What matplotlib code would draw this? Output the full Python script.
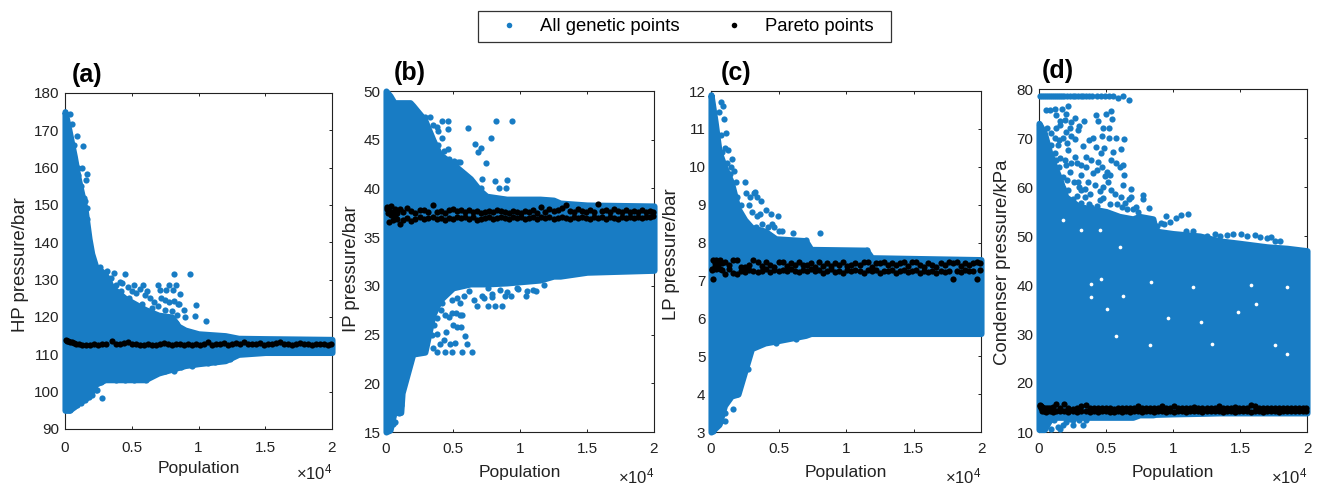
import matplotlib
matplotlib.use("Agg")
import matplotlib.pyplot as plt
from matplotlib.patches import Rectangle

plt.rcParams['font.family'] = ['Liberation Sans', 'DejaVu Sans']
plt.rcParams['mathtext.fontset'] = 'custom'
plt.rcParams['mathtext.rm'] = 'Liberation Sans'

BLUE = '#187cc4'

#-----pareto points-----
pareto_pop = [60, 150, 260, 380, 520, 680, 850, 1050, 1300, 1600,
              1900, 2200, 2500, 2800, 3100, 3500, 3800, 4100, 4400, 4700,
              5000, 5300, 5600, 5900, 6200, 6500, 6800, 7100, 7400, 7700,
              8000, 8300, 8600, 8900, 9200, 9500, 9800, 10100, 10400, 10700,
              11000, 11300, 11600, 11900, 12200, 12500, 12800, 13100, 13400, 13700,
              14000, 14300, 14600, 14900, 15200, 15500, 15800, 16100, 16400, 16700,
              17000, 17300, 17600, 17900, 18200, 18500, 18800, 19100, 19400, 19700,
              19900]
pareto_a = [113.8, 113.7, 113.5, 113.3, 113.2, 113.0, 112.9, 112.7, 112.6, 112.5,
            112.6, 112.7, 112.5, 112.8, 112.9, 113.6, 112.7, 112.8, 113.0, 113.2,
            112.8, 112.7, 112.6, 112.6, 112.7, 112.5, 112.6, 112.9, 113.0, 112.7,
            112.6, 112.8, 112.9, 112.6, 112.7, 112.6, 112.8, 112.6, 112.7, 113.3,
            112.6, 112.8, 112.7, 113.0, 112.6, 112.7, 113.1, 112.8, 113.4, 112.7,
            112.9, 112.7, 113.1, 112.6, 112.8, 112.7, 113.0, 113.4, 112.7, 112.9,
            112.6, 112.8, 113.0, 112.7, 112.8, 112.6, 112.9, 112.7, 112.8, 112.6,
            112.8]
pareto_b_hi = [38.1, 37.9, 37.7, 38.2, 37.6, 37.9, 37.5, 37.9, 37.6, 38.0,
               37.7, 37.5, 37.8, 37.8, 37.6, 38.3, 37.6, 37.7, 37.5, 37.8,
               37.9, 37.7, 37.8, 37.6, 37.8, 37.6, 37.7, 37.5, 37.6, 37.7,
               37.6, 37.8, 37.7, 37.6, 37.5, 37.7, 37.6, 37.5, 37.7, 37.6,
               37.8, 37.5, 38.1, 37.6, 37.9, 37.7, 37.8, 38.0, 38.3, 37.7,
               37.6, 37.9, 37.7, 37.6, 37.8, 37.6, 38.4, 37.7, 37.8, 37.6,
               37.9, 37.7, 37.6, 37.8, 37.6, 37.7, 37.6, 37.8, 37.6, 37.7,
               37.6]
pareto_b_lo = [37.9, 37.5, 36.6, 37.3, 36.8, 37.1, 36.9, 36.4, 36.8, 37.0,
               36.7, 36.9, 37.1, 36.9, 37.0, 37.1, 36.9, 37.0, 36.8, 37.0,
               36.9, 37.1, 37.0, 37.1, 36.9, 37.1, 36.8, 36.9, 37.0, 37.1,
               36.9, 37.0, 37.1, 37.0, 36.9, 37.1, 37.0, 37.1, 36.9, 37.0,
               37.1, 36.9, 37.1, 37.0, 37.1, 36.9, 37.0, 37.1, 37.0, 36.9,
               37.1, 37.0, 37.1, 37.0, 36.9, 37.1, 37.0, 37.1, 36.9, 37.1,
               37.0, 36.9, 37.1, 37.0, 37.1, 37.0, 37.1, 37.0, 37.1, 37.1,
               37.2]
pareto_c_hi = [7.30, 7.55, 7.45, 7.55, 7.50, 7.55, 7.45, 7.48, 7.40, 7.55,
               7.53, 7.35, 7.35, 7.40, 7.55, 7.50, 7.38, 7.48, 7.40, 7.35,
               7.50, 7.50, 7.38, 7.45, 7.40, 7.48, 7.42, 7.40, 7.47, 7.35,
               7.48, 7.38, 7.47, 7.38, 7.47, 7.40, 7.48, 7.38, 7.42, 7.47,
               7.40, 7.48, 7.50, 7.35, 7.47, 7.45, 7.48, 7.40, 7.47, 7.42,
               7.47, 7.50, 7.38, 7.50, 7.48, 7.40, 7.35, 7.47, 7.42, 7.35,
               7.45, 7.40, 7.48, 7.47, 7.50, 7.38, 7.47, 7.42, 7.47, 7.50,
               7.47]
pareto_c_lo = [7.28, 7.05, 7.38, 7.30, 7.40, 7.30, 7.28, 7.18, 7.30, 7.20,
               7.18, 7.25, 7.22, 7.28, 7.25, 7.22, 7.25, 7.30, 7.22, 7.28,
               7.25, 7.28, 7.25, 7.30, 7.26, 7.22, 7.28, 7.25, 7.30, 7.24,
               7.28, 7.20, 7.26, 7.30, 7.22, 7.26, 7.20, 7.28, 7.24, 7.28,
               7.26, 7.20, 7.28, 7.24, 7.28, 7.20, 7.26, 7.24, 7.28, 7.20,
               7.24, 7.28, 7.22, 7.26, 7.28, 7.20, 7.26, 7.22, 7.24, 7.20,
               7.26, 7.22, 7.24, 7.05, 7.26, 7.22, 7.28, 7.24, 7.26, 7.05,
               7.28]
pareto_d_hi = [15.6, 15.4, 15.2, 14.8, 14.9, 15.0, 14.8, 15.1, 15.7, 14.9,
               15.8, 14.8, 14.7, 14.9, 15.3, 15.6, 14.8, 14.9, 14.8, 14.9,
               15.0, 14.8, 14.7, 14.9, 14.8, 14.8, 14.8, 14.9, 15.3, 14.8,
               14.9, 14.8, 14.9, 14.8, 15.4, 14.9, 14.8, 15.3, 14.9, 15.0,
               14.8, 14.9, 15.1, 14.8, 14.9, 14.9, 14.8, 14.9, 15.4, 15.0,
               14.8, 14.9, 15.2, 14.9, 14.8, 14.9, 15.5, 15.3, 14.9, 14.9,
               14.8, 14.9, 15.0, 14.9, 14.8, 14.9, 14.9, 14.9, 15.0, 14.9,
               14.9]
pareto_d_lo = [15.3, 14.9, 14.2, 14.3, 14.0, 14.4, 14.2, 14.1, 14.3, 14.2,
               14.3, 14.1, 14.2, 14.1, 14.3, 14.2, 14.0, 14.2, 14.1, 14.2,
               14.2, 14.1, 14.0, 14.2, 14.1, 14.2, 14.1, 14.2, 14.2, 14.1,
               14.2, 14.2, 14.1, 14.2, 14.2, 14.1, 14.2, 14.1, 14.2, 14.2,
               14.1, 14.2, 14.2, 14.2, 14.1, 14.2, 14.2, 14.2, 14.2, 14.1,
               14.2, 14.2, 14.1, 14.2, 14.2, 14.2, 14.1, 14.2, 14.2, 14.1,
               14.2, 14.2, 14.2, 14.1, 14.2, 14.2, 14.2, 14.2, 14.2, 14.2,
               14.2]

#-----dense cloud of genetic points, outline only-----
env_a_x = [0, 300, 700, 1000, 1500, 1800, 2000, 2300, 3000, 3500, 4500, 5000, 6000, 7000, 8000, 8500, 9000, 10000, 12000, 13000, 15000, 20000]
env_a_hi = [175, 170, 163, 157, 149, 141, 137, 133.5, 131.5, 128, 125, 124, 122, 120.5, 120, 117.5, 116.5, 115.5, 115, 114.3, 114.2, 114]
env_a_lo = [95, 95, 96, 97, 98, 99, 100, 102, 103.2, 103.2, 103.2, 103.2, 103.2, 105, 106, 106.5, 107, 107.5, 108.3, 110, 110.5, 110.5]

env_b_x = [0, 300, 600, 1100, 1200, 1800, 2000, 2900, 3500, 4000, 5000, 6300, 7000, 7500, 9000, 11500, 12500, 13000, 15000, 20000]
env_b_hi = [50, 49.5, 48.8, 48.8, 48.8, 48.8, 48.5, 47, 45, 43.5, 42.5, 41, 39.8, 39.2, 38.9, 38.9, 38.8, 38.5, 38.3, 38.2]
env_b_lo = [15, 15.2, 17, 17, 19, 22, 23, 23.2, 27, 28.5, 29.8, 30.2, 30.2, 30.2, 30.3, 30.6, 31, 31, 31.4, 31.6]

env_c_x = [0, 300, 600, 1000, 1500, 2000, 2500, 3000, 4000, 4800, 7000, 7400, 11500, 11900, 20000]
env_c_hi = [11.9, 11.2, 10.4, 10.0, 9.6, 8.9, 8.6, 8.4, 8.3, 8.1, 8.05, 7.82, 7.8, 7.6, 7.55]
env_c_lo = [3.0, 3.1, 3.2, 3.7, 3.95, 4.0, 4.6, 5.2, 5.35, 5.4, 5.55, 5.6, 5.6, 5.6, 5.6]

env_d_x = [0, 400, 900, 1500, 2000, 3000, 5000, 6000, 7000, 7500, 8500, 8700, 10000, 12000, 13500, 15000, 17000, 18500, 20000]
env_d_hi = [73, 71, 66, 62, 58, 56, 55, 54, 53.5, 54, 53.5, 51, 50.5, 50, 49, 48.5, 47.8, 47.5, 47]
env_d_lo = [10.5, 10.5, 13, 13, 13, 13, 13, 13, 13, 13.5, 13.5, 13.6, 13.7, 13.8, 13.9, 13.9, 13.9, 13.9, 13.9]

#-----loose genetic points outside the dense cloud-----
loose_a_x = [900, 1350, 970, 1300, 1650, 1550, 1650, 1650, 350, 550, 650, 2600, 3150, 3700, 4500, 8140, 9340, 3420, 4100, 5170,
             5840, 6940, 7770, 8340, 7090, 8090, 7590, 6170, 8640, 9790, 8540, 8940, 9010, 9710, 10560, 2770, 12330, 10740, 8710, 8140,
             1470, 350, 2350, 100,
             2900, 3300, 3800, 4300, 4700, 5000, 5300, 5600, 6000, 6400, 6700, 7200, 7500, 7800, 8200, 8500, 7000, 7500, 8000, 8400,
             8300, 6500, 5800, 4800, 4200, 3900, 1200, 1400, 1500, 1400, 1600, 1700, 1900, 1000, 800, 1200, 1700, 1300,
             2000, 2400, 1800, 1200, 900, 500, 2700, 3800, 4500, 5200, 6100, 6800, 7500, 8300, 9500, 11200]
loose_a_y = [168.6, 165.7, 160, 160, 158.2, 156.6, 149.3, 146.2, 174.3, 171.6, 166, 133.5, 132.4, 131.7, 131.5, 131.5, 131.5, 130.5, 129.3, 128.6,
             128.6, 128.6, 128.6, 128.6, 127.2, 127.2, 127.2, 127, 126.1, 123.2, 123.5, 122, 120, 120.3, 118.8, 98.2, 108.8, 107.8, 106.7, 105.6,
             97.8, 95, 100.5, 100.5,
             131, 130, 128.5, 129, 128, 127, 126.5, 127.5, 126, 125, 124, 125.2, 124.5, 124, 124.2, 123.5, 123, 122, 121.5, 120.5,
             118.5, 122.5, 123.5, 125, 127, 126, 155, 152, 151, 147.5, 143, 139.5, 138, 158, 160, 150, 141, 143.5,
             99, 100.5, 98.5, 97, 96.5, 97, 102.5, 103, 103, 103, 103.2, 105, 105.5, 106.5, 107, 108]

loose_b_x = [4650, 9370, 8200, 6090, 7830, 6660, 7060, 6880, 7450, 7130, 8150, 9040, 7060, 8470, 8940, 4650, 4650, 4150, 3900, 5390,
             6390, 6040, 5890, 5570, 5520, 5690, 5140, 5640, 4900, 4400, 3780, 4750, 4320, 3780, 4150, 6760, 7580, 8120, 8670, 7880,
             8870, 7130, 10480, 11230, 11780, 7630, 9860,
             2500, 2900, 3300, 3500, 3800, 4200, 3900, 4300, 4700, 5100, 5500, 5800, 6200, 6100, 6500,
             3000, 3400, 3600, 3800, 4100, 4400, 4700, 4900, 5200, 5500, 5000, 4500, 5300, 4000, 3500, 2800, 2500,
             4900, 5300, 5800, 6200, 6600, 7300, 7900, 8500, 9000, 9300, 9800, 10500, 11000,
             500, 900, 1100, 1000, 700, 500, 200, 400, 1000, 1300, 1500, 1800]
loose_b_y = [46.9, 46.9, 46.9, 46.2, 45.2, 44.6, 44.2, 43.7, 42.6, 41, 40.8, 40.9, 40, 40, 40, 46.1, 44, 46.9, 45.9, 42.7,
             23.2, 24, 24.9, 25.8, 28.2, 27, 24.1, 23.2, 23.2, 23.2, 23.2, 24, 24.4, 25.1, 28.2, 27.9, 27.9, 27.9, 27.9, 28.9,
             29, 29, 29, 29.5, 30.1, 29.8, 29.7,
             47.5, 47.3, 47.3, 46.5, 46.3, 45.2, 44.5, 43.8, 43, 42.8, 42.7, 41.5, 41, 40.2, 39.8,
             24, 25, 26, 26.7, 27.5, 27, 26.8, 27.2, 27.2, 27, 26, 25.3, 25.8, 24, 23.6, 23.3, 23.3,
             28.5, 28.8, 29, 29.5, 28.5, 28.8, 29.2, 29.6, 29.4, 29, 29.8, 29.5, 29.6,
             18, 18, 17.8, 17, 16, 15.8, 15.2, 17, 20.3, 20.8, 21.5, 22.2]

loose_c_x = [8070, 1630, 770, 890, 970, 590, 1290, 740, 1580, 2550, 1880, 3240, 3740, 4060, 4930, 4410, 3440, 2920, 5270, 6090,
             7000, 2720, 2380, 2430, 2720, 2920, 3490, 4800, 1930, 770, 1010, 770, 890, 150, 11530, 6290,
             1500, 1700, 1400, 1900, 2200, 2600, 2800, 3200, 3000, 3400, 3600, 3800, 4200, 4500, 4700, 5000, 3300, 2700, 1000, 800, 1200, 1100,
             1500, 1800, 2000, 2300, 2500, 1700, 1200, 800, 600, 400, 1000]
loose_c_y = [8.25, 3.6, 11.7, 11.6, 11.25, 11.45, 10.43, 10.83, 10.2, 9.6, 9.6, 9.33, 9.1, 8.87, 8.7, 8.76, 9.2, 9.2, 8.3, 8.25,
             8.06, 4.67, 4.54, 4.8, 5.1, 5.3, 5.35, 5.35, 4, 3.28, 3.3, 3.75, 3.5, 3.03, 7.8, 5.45,
             10, 9.9, 9.8, 9.2, 9.0, 9.3, 9.0, 9.3, 8.8, 8.7, 8.75, 8.5, 8.4, 8.5, 8.4, 8.3, 8.4, 8.5, 10.5, 10.4, 10.1, 10.9,
             4.2, 4.5, 4.8, 5.0, 5.2, 4.7, 4, 3.7, 3.4, 3.2, 3.5]

loose_d_x = [100, 250, 400, 550, 700, 850, 1000, 1150, 1300, 1450, 1600, 1750, 1900, 2100, 2300, 2500, 2700, 2900, 3100, 3300,
             3500, 3700, 3950, 4300, 4600, 4900, 5200, 5500, 5900, 6300, 6700,
             550, 800, 1290, 2040, 1915, 1540, 2410, 3330, 4280, 5020, 5400, 5470, 4400, 4780, 2910, 2040, 2660, 3730, 3280, 4280,
             5200, 5770, 6340, 4850, 6090, 4650, 5520, 2160, 1420, 1170, 1920, 2660, 3530, 4400, 5400, 5770, 6270, 6020, 6340, 4900,
             4030, 3160, 2290, 1540, 1290, 2910, 3660, 5150, 6270, 6890, 2160, 3160, 4530, 5400, 7760, 7760, 6890, 3410, 1670, 4530,
             5270, 3160, 3900, 8210, 7260, 6390, 9500, 10250, 10620, 11120, 9750, 9130, 12110, 13110, 15100, 17340, 17960, 16090,
             3280, 2290, 2540, 920, 1540, 1790,
             600, 900, 1200, 1500, 1800, 2100, 2400, 700, 1000, 1300, 1600, 2000, 2400, 2800, 3100, 3500, 3900, 4300, 4700, 5100, 5300,
             1200, 1500, 1800, 2100, 2600, 3000, 3400, 3800, 4200, 4800, 5700, 6100, 6700, 5800, 1000, 1300, 1800, 2500, 2800, 3700,
             4300, 4800, 6200, 6600, 7000, 7400, 900, 1200, 1700, 2200, 3000, 2700, 2300, 1600, 1300, 4000, 4700, 5200,
             300, 600, 800, 1100, 1400, 2000, 2500, 3000, 3500,
             8800, 9300, 11000, 11500, 12500, 13500, 14000, 14500, 15500, 16500, 17000, 17600]
loose_d_y = [78.5, 78.5, 78.5, 78.5, 78.5, 78.5, 78.5, 78.5, 78.5, 78.5, 78.5, 78.5, 78.5, 78.5, 78.5, 78.5, 78.5, 78.5, 78.5, 78.5,
             78.5, 78.5, 78.5, 78.5, 78.5, 78.5, 78.5, 78.5, 78.2, 78.5, 77.8,
             75.8, 75.7, 74.7, 75, 73.7, 72.6, 73.3, 73.5, 74.6, 75, 75.6, 73.8, 73.5, 72, 71.6, 71.3, 69.7, 69.6, 68.4, 68.1,
             69.9, 69.9, 69.8, 68, 67.7, 66.9, 67.2, 67.5, 68.6, 66.9, 65.5, 66.2, 66.2, 65.2, 65.5, 64.8, 64.5, 64.1, 62.4, 62.2,
             62.8, 62.4, 63.1, 61.8, 60.7, 61, 61, 61, 60.4, 59.5, 59.4, 59.4, 59.2, 59.4, 58.4, 57.5, 58, 58, 57.7, 57.3,
             56.5, 56.7, 56, 55.8, 56, 56.7, 54.1, 53.6, 54.3, 54.4, 52.9, 52.6, 49.2, 50.5, 50.5, 49.8, 49, 50.3,
             11.4, 12.7, 11.4, 10.7, 10.7, 11.4,
             72, 71, 70, 69.5, 70, 69, 70.5, 68, 66, 65.5, 66, 64.5, 65, 65, 64.5, 64, 65.5, 63.5, 64, 63, 62.5,
             62.5, 64, 62, 61.5, 61, 60, 59.5, 58.5, 60.5, 60, 58.5, 58, 57.5, 56.5, 60, 58.5, 59.8, 57.5, 58.2, 56.5,
             56.2, 57.8, 56, 55.5, 55.5, 54.8, 68.5, 76, 76, 76.5, 72.5, 74, 72, 73.5, 72, 70, 70.5, 72,
             12, 12, 12.5, 12.5, 11, 12, 12.5, 12.4, 12.4,
             52, 52.5, 51, 51, 50, 50, 50.3, 50.4, 50, 49.8, 49.5, 49]

#-----white gaps inside the dense cloud of panel (d)-----
gap_d_x = [3860, 6270, 5070, 5770, 8380, 8290, 14850, 16220, 18530, 18500, 12940, 4650, 1790, 3160, 4530, 6020, 3900, 11490, 12110, 9630, 15850, 17590]
gap_d_y = [37.6, 37.8, 35.2, 29.6, 40.7, 27.8, 34.5, 36.1, 39.5, 25.9, 28, 41.2, 53.2, 51.2, 51.2, 47.8, 40.3, 39.6, 32.5, 33.2, 40, 27.7]

W, H = 1320, 484
fig = plt.figure(figsize=(W / 100, H / 100), dpi=100)


def panel(box, ylim, yticks, ylab, ylab_xy, xpad, tag, tag_x, env, loose, pareto_rows):
    l, t, r, b = box
    ax = fig.add_axes([l / W, 1 - b / H, (r - l) / W, (b - t) / H])
    ax.fill_between(env[0], env[2], env[1], color=BLUE, linewidth=4.4, joinstyle='round',
                    clip_on=False, zorder=3)
    ax.scatter(loose[0], loose[1], s=20, color=BLUE, linewidths=0, clip_on=False, zorder=3)
    for row in pareto_rows:
        ax.scatter(pareto_pop, row, s=20, color='black', linewidths=0, clip_on=False, zorder=4)
    ax.set_xlim(0, 20000)
    ax.set_ylim(*ylim)
    ax.set_xticks([0, 5000, 10000, 15000, 20000])
    ax.set_xticklabels(['0', '0.5', '1', '1.5', '2'])
    ax.set_yticks(yticks)
    ax.tick_params(direction='in', length=2.5, width=0.7, top=True, right=True, labelsize=11, pad=4, colors='#222222')
    ax.tick_params(axis='x', pad=xpad)
    for s in ax.spines.values():
        s.set_linewidth(0.8)
        s.set_color('#222222')
    ax.set_xlabel('Population', fontsize=12.5, va='center', color='#222222')
    ax.xaxis.set_label_coords(0.5, -0.118)
    ax.set_ylabel(ylab, fontsize=13.4, va='center', color='#222222')
    ax.yaxis.set_label_coords(*ylab_xy)
    ax.text(tag_x, 1.032, tag, transform=ax.transAxes, fontsize=18, fontweight='bold', va='baseline')
    ax.text(1.0, -0.15, r'$\mathregular{\times 10^{4}}$', transform=ax.transAxes, fontsize=12, ha='right', va='baseline', color='#222222')
    return ax


panel((65, 93, 332, 429), (90, 180), list(range(90, 181, 10)), 'HP pressure/bar', (-0.165, 0.488), 9, '(a)', 0.026,
      (env_a_x, env_a_hi, env_a_lo), (loose_a_x, loose_a_y), [pareto_a])
panel((386, 91, 654, 432), (15, 50), list(range(15, 51, 5)), 'IP pressure/bar', (-0.127, 0.48), 7, '(b)', 0.03,
      (env_b_x, env_b_hi, env_b_lo), (loose_b_x, loose_b_y), [pareto_b_hi, pareto_b_lo])
panel((711, 91, 981, 432), (3, 12), list(range(3, 13)), 'LP pressure/bar', (-0.145, 0.52), 7, '(c)', 0.037,
      (env_c_x, env_c_hi, env_c_lo), (loose_c_x, loose_c_y), [pareto_c_hi, pareto_c_lo])
ax_d = panel((1039, 89, 1307, 432), (10, 80), list(range(10, 81, 10)), 'Condenser pressure/kPa', (-0.135, 0.495), 7, '(d)', 0.011,
             (env_d_x, env_d_hi, env_d_lo), (loose_d_x, loose_d_y), [pareto_d_hi, pareto_d_lo])
ax_d.scatter(gap_d_x, gap_d_y, s=7, color='white', linewidths=0, zorder=3.5)

fig.patches.append(Rectangle((478 / W, 1 - 42 / H), 413 / W, 31 / H, transform=fig.transFigure, figure=fig,
                             facecolor='white', edgecolor='#333333', linewidth=0.9))
h1 = plt.Line2D([], [], ls='none', marker='o', ms=4, color=BLUE, mew=0)
h2 = plt.Line2D([], [], ls='none', marker='o', ms=4, color='black', mew=0)
leg = fig.legend([h1, h2], ['All genetic points', 'Pareto points'], ncol=2, loc='center left',
                 bbox_to_anchor=(478 / W, 1 - 26.5 / H), bbox_transform=fig.transFigure,
                 fontsize=13.3, frameon=False, borderaxespad=0, borderpad=0.4,
                 handlelength=2.6, handletextpad=0.38, columnspacing=1.6)

fig.savefig('out.png', dpi=100)
